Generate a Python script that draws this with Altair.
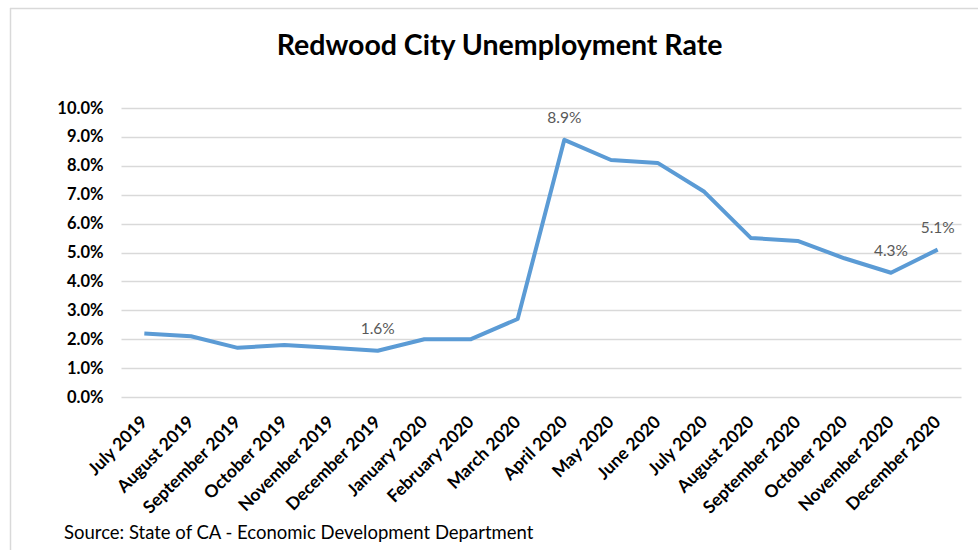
import altair as alt
import pandas as pd

months = ["July 2019", "August 2019", "September 2019", "October 2019", "November 2019",
          "December 2019", "January 2020", "February 2020", "March 2020", "April 2020",
          "May 2020", "June 2020", "July 2020", "August 2020", "September 2020",
          "October 2020", "November 2020", "December 2020"]
rates = [2.2, 2.1, 1.7, 1.8, 1.7, 1.6, 2.0, 2.0, 2.7, 8.9, 8.2, 8.1, 7.1, 5.5, 5.4, 4.8, 4.3, 5.1]
labeled = ["December 2019", "April 2020", "November 2020", "December 2020"]
title_text = "Redwood City Unemployment Rate"
source_text = "Source: State of CA - Economic Development Department"

df = pd.DataFrame({"month": months, "rate": [r / 100 for r in rates]})
df["label"] = [f"{r:.1f}%" if m in labeled else "" for m, r in zip(months, rates)]

FONT = "Lato"
W, H = 840, 289
L, T = 121, 108

x = alt.X("month:N", sort=months, scale=alt.Scale(type="point", padding=0.5),
          axis=alt.Axis(title=None, labelAngle=-45, labelAlign="right", labelBaseline="middle",
                        labelFont=FONT, labelFontWeight="bold", labelFontSize=17.5,
                        labelColor="#000000", labelPadding=22, ticks=False, domain=False,
                        grid=False, labelOverlap=False))
y = alt.Y("rate:Q", scale=alt.Scale(domain=[0, 0.1], nice=False),
          axis=alt.Axis(title=None, format=".1%", values=[i / 100 for i in range(11)],
                        labelFont=FONT, labelFontWeight="bold", labelFontSize=16.5,
                        labelColor="#000000", labelPadding=18, ticks=False, domain=False,
                        labelOverlap=False, gridColor="#D9D9D9", gridWidth=1.3))

line = alt.Chart(df).mark_line(color="#5B9BD5", strokeWidth=4, strokeJoin="round").encode(x=x, y=y)

text = alt.Chart(df).transform_filter("datum.label != ''").mark_text(
    font=FONT, fontSize=15.5, color="#595959", dy=-22, baseline="middle"
).encode(x=x, y=y, text="label:N")

one = pd.DataFrame({"a": [0]})

title = alt.Chart(pd.DataFrame({"t": [title_text]})).mark_text(
    font=FONT, fontSize=28.5, fontWeight="bold", color="#000000", align="center", baseline="alphabetic"
).encode(x=alt.value(499.5 - L), y=alt.value(55 - T), text="t:N")

source = alt.Chart(pd.DataFrame({"t": [source_text]})).mark_text(
    font=FONT, fontSize=18.5, color="#000000", align="left", baseline="middle"
).encode(x=alt.value(64 - L), y=alt.value(533 - T), text="t:N")

border_color = "#D9D9D9"
border_top = alt.Chart(one).mark_rule(color=border_color, strokeWidth=1.5).encode(
    x=alt.value(10 - L), x2=alt.value(978 - L), y=alt.value(8.5 - T))
border_left = alt.Chart(one).mark_rule(color=border_color, strokeWidth=1.5).encode(
    x=alt.value(10.5 - L), y=alt.value(8 - T), y2=alt.value(550 - T))

chart = alt.layer(border_top, border_left, line, text, title, source).properties(
    width=W, height=H,
    background="white",
    autosize=alt.AutoSizeParams(type="none"),
    padding={"left": L, "top": T, "right": 978 - L - W, "bottom": 550 - T - H},
).configure_view(strokeWidth=0, stroke="transparent")

chart.save("out.html", embed_options={"renderer": "svg", "actions": False})
